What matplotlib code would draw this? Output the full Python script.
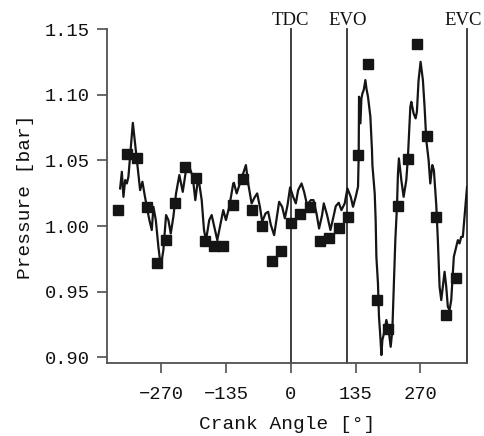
import matplotlib
matplotlib.use('Agg')
import matplotlib.pyplot as plt
import matplotlib.transforms as mtransforms

# measured points (squares)
marker_angle = [-359.5, -340.8, -319.9, -299.1, -279.6, -259.6, -241.5, -220.0, -198.4,
                -179.6, -159.7, -140.9, -121.4, -99.3, -80.6, -59.7, -40.2, -20.8, 0.0,
                19.4, 40.2, 61.4, 79.7, 100.5, 119.3, 140.1, 160.9, 179.6, 203.4, 223.4,
                244.2, 262.9, 283.1, 302.5, 322.6, 344.1]
marker_pressure = [1.0122, 1.0546, 1.0521, 1.0143, 0.9720, 0.9891, 1.0173, 1.0452, 1.0368,
                   0.9886, 0.9848, 0.9848, 1.0160, 1.0356, 1.0122, 1.0000, 0.9736, 0.9812, 1.0021,
                   1.0091, 1.0143, 0.9887, 0.9906, 0.9982, 1.0071, 1.0541, 1.1232, 0.9436, 0.9215,
                   1.0152, 1.0508, 1.1387, 1.0686, 1.0066, 0.9322, 0.9606]

# simulated trace (line)
trace_angle = [-356.0, -352.4, -349.1, -345.5, -342.0, -338.7, -329.5, -321.2, -314.3, -309.5,
               -305.4, -300.4, -295.0, -290.0, -286.6, -281.6, -276.2, -271.2, -265.8, -260.2,
               -255.4, -250.4, -245.0, -239.4, -232.5, -225.4, -218.6, -211.7, -204.6, -199.2,
               -193.0, -185.9, -181.1, -176.9, -170.1, -165.1, -158.2, -153.4, -147.8, -140.9,
               -135.3, -128.4, -120.1, -118.7, -113.0, -106.2, -101.4, -93.7, -88.9, -81.8,
               -74.9, -70.2, -64.5, -59.7, -52.7, -47.3, -41.6, -34.8, -29.1, -24.4,
               -18.1, -12.5, -6.9, -1.5, 4.8, 10.4, 15.2, 22.3, 27.7, 33.9,
               41.6, 47.3, 53.5, 58.9, 65.2, 68.7, 75.6, 82.6, 88.9, 93.7,
               99.9, 105.5, 112.4, 118.0, 124.9, 129.7, 135.3, 140.1, 141.5, 142.2,
               145.1, 147.2, 149.3, 152.0, 155.5, 157.6, 160.9, 165.9, 169.2, 170.1,
               174.9, 176.9, 178.4, 181.7, 183.8, 186.7, 188.8, 190.9, 194.2, 199.2,
               204.0, 208.2, 211.7, 214.4, 217.9, 221.3, 223.4, 225.4, 230.4, 235.2,
               240.8, 244.2, 249.2, 251.3, 256.0, 260.2, 262.9, 266.4, 270.6, 275.4,
               278.9, 282.5, 287.3, 290.8, 295.0, 298.3, 303.3, 306.6, 310.2, 313.7,
               317.0, 320.6, 324.1, 327.4, 331.0, 334.5, 337.8, 339.9, 344.9, 348.3,
               351.8, 355.3, 358.7, 362.2, 365.3, 367.4]
trace_pressure = [1.0287, 1.0414, 1.0223, 1.0351, 1.0325, 1.0376, 1.0787, 1.0503, 1.0274, 1.0338,
                  1.0249, 1.0147, 1.0046, 0.9970, 1.0147, 1.0046, 0.9842, 0.9690, 0.9817, 1.0084,
                  1.0046, 0.9944, 1.0071, 1.0249, 1.0389, 1.0261, 1.0427, 1.0452, 1.0376, 1.0198,
                  1.0376, 1.0198, 0.9970, 0.9893, 1.0046, 1.0084, 0.9970, 0.9893, 0.9995, 1.0122,
                  1.0046, 1.0147, 1.0325, 1.0330, 1.0249, 1.0325, 1.0376, 1.0465, 1.0325, 1.0173,
                  1.0223, 1.0249, 1.0147, 1.0033, 1.0097, 1.0109, 1.0008, 0.9931, 1.0071, 1.0185,
                  1.0147, 1.0059, 1.0160, 1.0295, 1.0223, 1.0173, 1.0274, 1.0325, 1.0261, 1.0160,
                  1.0198, 1.0198, 1.0097, 0.9982, 1.0084, 1.0173, 1.0084, 0.9970, 1.0071, 1.0152,
                  1.0178, 1.0122, 1.0173, 1.0287, 1.0223, 1.0147, 1.0223, 1.0300, 1.0528, 1.0986,
                  1.0783, 1.0973, 1.1011, 1.1037, 1.1113, 1.1050, 1.0986, 1.0833, 1.0579, 1.0465,
                  1.0249, 1.0046, 0.9766, 0.9563, 0.9309, 0.9156, 0.9017, 0.9131, 0.9182, 0.9284,
                  0.9207, 0.9080, 0.9207, 0.9512, 0.9893, 1.0147, 1.0402, 1.0516, 1.0351, 1.0223,
                  1.0351, 1.0528, 1.0909, 1.0947, 1.0859, 1.0821, 1.0871, 1.1113, 1.1252, 1.1113,
                  1.0909, 1.0655, 1.0503, 1.0325, 1.0465, 1.0427, 1.0160, 0.9893, 0.9537, 0.9436,
                  0.9537, 0.9652, 0.9537, 0.9385, 0.9360, 0.9436, 0.9639, 0.9766, 0.9842, 0.9893,
                  0.9868, 0.9918, 0.9918, 1.0071, 1.0198, 1.0297]

# valve events / TDC
event_names = ['TDC', 'EVO', 'EVC']
event_angle = [0.0, 118.0, 368.0]
event_shift = [0, 0, -3]   # label nudge in points, EVC sits at the right edge

x_ticks = [-270, -135, 0, 135, 270]
y_ticks = [0.90, 0.95, 1.00, 1.05, 1.10, 1.15]

mono = 'Liberation Mono'
serif = 'Liberation Serif'
dark = '#151515'
axis_grey = '#505050'
text_col = '#111111'

fig = plt.figure(figsize=(4.85, 4.36), dpi=100)
ax = fig.add_axes([0.220, 0.1667, 0.7435, 0.7661])

# line + markers
ax.plot(trace_angle, trace_pressure, color=dark, linewidth=1.6, zorder=3,
        solid_joinstyle='round')
ax.plot(marker_angle, marker_pressure, linestyle='none', marker='s', markersize=7,
        color=dark, zorder=4, clip_on=False)

# vertical event lines, labels above the axes
trans = mtransforms.blended_transform_factory(ax.transData, ax.transAxes)
for name, ang, dx in zip(event_names, event_angle, event_shift):
    ax.axvline(ang, color='#303030', linewidth=1.3, zorder=2, clip_on=False)
    ax.annotate(name, xy=(ang, 1.013), xycoords=trans, xytext=(dx, 0),
                textcoords='offset points', ha='center', va='baseline',
                fontsize=13.5, family=serif, color=text_col, annotation_clip=False)

ax.set_xlim(-384, 368)
ax.set_ylim(0.8954, 1.15)
ax.set_xticks(x_ticks)
ax.set_xticklabels(['\u2212270', '\u2212135', '0', '135', '270'])
ax.set_yticks(y_ticks)
ax.set_yticklabels(['%.2f' % v for v in y_ticks])

for lab in ax.get_xticklabels() + ax.get_yticklabels():
    lab.set_family(mono)
    lab.set_fontsize(13.5)
    lab.set_color(text_col)

ax.tick_params(axis='both', direction='out', length=7, width=1.2, color=axis_grey)
ax.tick_params(axis='x', pad=9)
ax.tick_params(axis='y', pad=5)

for side in ['top', 'right']:
    ax.spines[side].set_visible(False)
for side in ['left', 'bottom']:
    ax.spines[side].set_color(axis_grey)
    ax.spines[side].set_linewidth(1.3)

ax.set_xlabel('Crank Angle [\u00b0]', family=mono, fontsize=14, color=text_col, labelpad=10)
ax.set_ylabel('Pressure [bar]', family=mono, fontsize=14, color=text_col, labelpad=8)

fig.savefig('out.png', dpi=100)
